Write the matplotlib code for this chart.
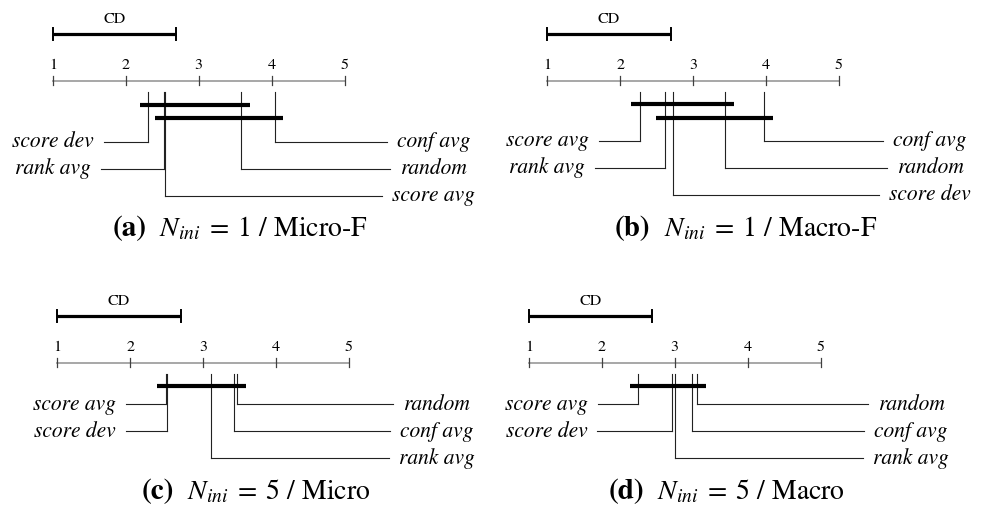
import matplotlib
matplotlib.use('Agg')
import matplotlib.pyplot as plt

# Critical difference diagrams, four settings

plt.rcParams['font.family'] = ['STIXGeneral', 'DejaVu Serif']
plt.rcParams['mathtext.fontset'] = 'stix'

cd = 1.69
tick_values = [1, 2, 3, 4, 5]

# average ranks, one list per panel
names_a = ['score dev', 'rank avg', 'score avg', 'random', 'conf avg']
ranks_a = [2.31, 2.52, 2.54, 3.58, 4.04]
cliques_a = [('score dev', 'random'), ('rank avg', 'conf avg')]

names_b = ['score avg', 'rank avg', 'score dev', 'random', 'conf avg']
ranks_b = [2.27, 2.61, 2.73, 3.44, 3.97]
cliques_b = [('score avg', 'random'), ('rank avg', 'conf avg')]

names_c = ['score avg', 'score dev', 'rank avg', 'conf avg', 'random']
ranks_c = [2.49, 2.50, 3.11, 3.43, 3.47]
cliques_c = [('score avg', 'random')]

names_d = ['score avg', 'score dev', 'rank avg', 'conf avg', 'random']
ranks_d = [2.50, 2.96, 3.00, 3.23, 3.31]
cliques_d = [('score avg', 'random')]

tags = ['(a)', '(b)', '(c)', '(d)']
captions = [r'$N_{ini}\;=\;1$ / Micro-F',
            r'$N_{ini}\;=\;1$ / Macro-F',
            r'$N_{ini}\;=\;5$ / Micro',
            r'$N_{ini}\;=\;5$ / Macro']

# layout: pixel of rank 1, panel top, first row, label centres, caption place
W, H = 986, 516
scale = 72.9
panels = [
    dict(names=names_a, ranks=ranks_a, cliques=cliques_a, x1=53.0, top=0,
         bar0=104.7, row0=141.7, lc=1.0, rc=6.22, cap=(240, 236)),
    dict(names=names_b, ranks=ranks_b, cliques=cliques_b, x1=547.3, top=0,
         bar0=104.0, row0=141.0, lc=1.0, rc=6.25, cap=(746, 236)),
    dict(names=names_c, ranks=ranks_c, cliques=cliques_c, x1=57.3, top=282,
         bar0=103.7, row0=122.3, lc=1.24, rc=6.2, cap=(256, 499)),
    dict(names=names_d, ranks=ranks_d, cliques=cliques_d, x1=529.0, top=282,
         bar0=103.7, row0=122.3, lc=1.24, rc=6.24, cap=(727, 499)),
]

fig = plt.figure(figsize=(W / 100, H / 100), dpi=100)
fig.patch.set_facecolor('white')

axis_y = 80.7
row_step = 27.0
bar_step = 13.6
ext = 0.12
gap = 10.0
label_size = 15.5
cap_size = 20

pending = []
for p in panels:
    ax = fig.add_axes([0, 0, 1, 1])
    ax.set_axis_off()
    ax.patch.set_alpha(0.0)
    ax.set_xlim(1 - p['x1'] / scale, 1 + (W - p['x1']) / scale)
    ax.set_ylim(H, 0)
    t = p['top']

    # CD bar
    ax.plot([1, 1 + cd], [t + 34, t + 34], color='black', lw=2.3,
            solid_capstyle='butt')
    for xe in (1, 1 + cd):
        ax.plot([xe, xe], [t + 28, t + 40], color='black', lw=1.4)
    ax.text(1 + cd / 2, t + 19, 'CD', ha='center', va='center', fontsize=11.5)

    # rank axis
    ax.plot([tick_values[0], tick_values[-1]], [t + axis_y, t + axis_y],
            color='#a0a0a0', lw=1.3)
    for v in tick_values:
        ax.plot([v, v], [t + axis_y - 4.3, t + axis_y + 4.3],
                color='#404040', lw=0.9)
        ax.text(v, t + 65, str(v), ha='center', va='center', fontsize=11.5)

    rank_of = dict(zip(p['names'], p['ranks']))

    # cliques
    for i, (lo, hi) in enumerate(p['cliques']):
        y = t + p['bar0'] + i * bar_step
        ax.plot([rank_of[lo] - ext, rank_of[hi] + ext], [y, y],
                color='black', lw=3.0, solid_capstyle='butt', zorder=3)

    order = sorted(zip(p['ranks'], p['names']))
    n_left = len(order) // 2
    left = order[:n_left]
    right = order[n_left:][::-1]

    for i, (r, nm) in enumerate(left):
        y = t + p['row0'] + i * row_step
        ax.plot([r, r], [t + axis_y + 11, y], color='#222222', lw=0.8)
        txt = ax.text(p['lc'], y, nm, ha='center', va='center',
                      fontsize=label_size, style='italic')
        pending.append((ax, txt, r, y, 'left'))
    for i, (r, nm) in enumerate(right):
        y = t + p['row0'] + i * row_step
        ax.plot([r, r], [t + axis_y + 11, y], color='#222222', lw=0.8)
        txt = ax.text(p['rc'], y, nm, ha='center', va='center',
                      fontsize=label_size, style='italic')
        pending.append((ax, txt, r, y, 'right'))

# connect the labels to their rank lines, using the drawn text extents
fig.canvas.draw()
renderer = fig.canvas.get_renderer()
for ax, txt, r, y, side in pending:
    bb = txt.get_window_extent(renderer)
    inv = ax.transData.inverted()
    if side == 'left':
        xs = inv.transform((bb.x1 + gap, 0))[0]
        ax.plot([xs, r], [y, y], color='#222222', lw=0.8)
    else:
        xe = inv.transform((bb.x0 - gap, 0))[0]
        ax.plot([r, xe], [y, y], color='#222222', lw=0.8)

# captions: bold tag followed by the setting, centred as a whole
for k, p in enumerate(panels):
    cx, cy = p['cap']
    tag = fig.text(0, 0, tags[k], fontsize=cap_size + 1, weight='bold',
                   va='baseline', ha='left')
    body = fig.text(0, 0, captions[k], fontsize=cap_size,
                    va='baseline', ha='left')
    wt = tag.get_window_extent(renderer).width
    wb = body.get_window_extent(renderer).width
    space = 13
    x0 = cx - (wt + space + wb) / 2
    tag.set_position((x0 / W, 1 - cy / H))
    body.set_position(((x0 + wt + space) / W, 1 - cy / H))

fig.savefig('out.png', dpi=100, facecolor='white')
